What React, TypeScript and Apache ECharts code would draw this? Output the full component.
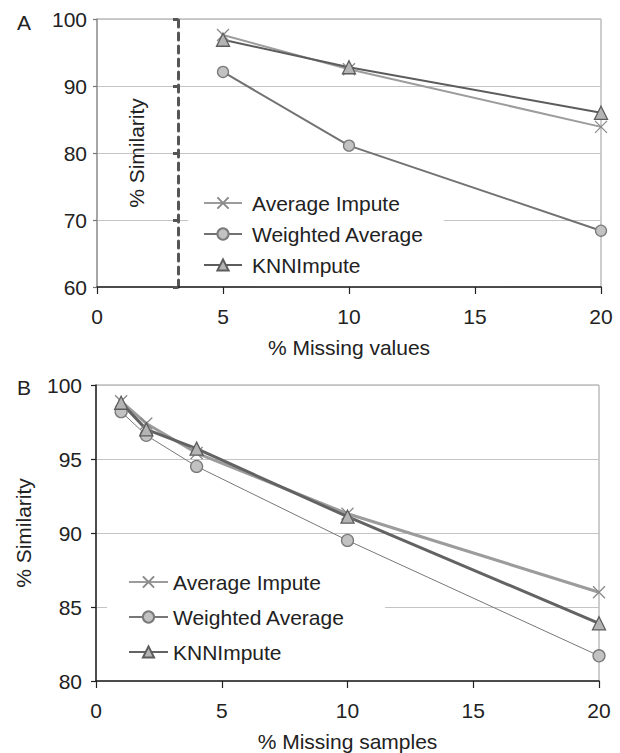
import React, { useEffect, useRef } from "react";
import * as echarts from "echarts";

// Panel A: % missing values
const xA = [5, 10, 20];
const avgA = [97.6, 92.5, 83.9];
const wavgA = [92.1, 81.1, 68.4];
const knnA = [96.9, 92.8, 86.0];

// Panel B: % missing samples
const xB = [1, 2, 4, 10, 20];
const avgB = [98.9, 97.4, 95.4, 91.3, 86.0];
const wavgB = [98.2, 96.6, 94.5, 89.5, 81.7];
const knnB = [98.8, 97.0, 95.7, 91.1, 83.9];

const seriesNames = ["Average Impute", "Weighted Average", "KNNImpute"];
const xTicks = [0, 5, 10, 15, 20];
const yTicksA = [60, 70, 80, 90, 100];
const yTicksB = [80, 85, 90, 95, 100];

const FONT = "'Liberation Sans', Arial, Helvetica, sans-serif";
const CROSS = "path://M0,0L10,10M10,0L0,10";

const pair = (xs: number[], ys: number[]) => xs.map((x, i) => [x, ys[i]]);

export default function App() {
  const ref = useRef<HTMLDivElement>(null);
  useEffect(() => {
    if (!ref.current) return;
    const chart = echarts.init(ref.current, null, { renderer: "svg" });
    const txt = { color: "#222", fontFamily: FONT, fontSize: 21 };
    const mk = (
      name: string,
      xi: number,
      yi: number,
      data: number[][],
      lineColor: string,
      width: number,
      symbol: string,
      size: number,
      fill: string,
      border: string
    ) => ({
      type: "line",
      name,
      xAxisIndex: xi,
      yAxisIndex: yi,
      data,
      symbol,
      symbolSize: size,
      showAllSymbol: true,
      lineStyle: { color: lineColor, width },
      itemStyle: {
        color: fill,
        borderColor: border,
        borderWidth: 1.3,
      },
      emphasis: { disabled: true },
      z: 3,
    });
    const sfxB = "#B";
    chart.setOption({
      animation: false,
      backgroundColor: "#fff",
      textStyle: { fontFamily: FONT },
      grid: [
        { left: 97, top: 19, width: 504, height: 268, show: true, borderColor: "#9a9a9a", borderWidth: 1, backgroundColor: "transparent" },
        { left: 96, top: 385, width: 503, height: 296, show: true, borderColor: "#9a9a9a", borderWidth: 1, backgroundColor: "transparent" },
      ],
      xAxis: [
        {
          type: "value", gridIndex: 0, min: xTicks[0], max: xTicks[xTicks.length - 1], interval: 5,
          name: "% Missing values", nameLocation: "middle", nameGap: 50, nameTextStyle: txt,
          axisLine: { lineStyle: { color: "#222", width: 1.5 } },
          axisTick: { length: 7, lineStyle: { color: "#222", width: 1.2 } },
          axisLabel: { ...txt, margin: 19 },
          splitLine: { show: false },
        },
        {
          type: "value", gridIndex: 1, min: xTicks[0], max: xTicks[xTicks.length - 1], interval: 5,
          name: "% Missing samples", nameLocation: "middle", nameGap: 50, nameTextStyle: txt,
          axisLine: { lineStyle: { color: "#222", width: 1.5 } },
          axisTick: { length: 7, lineStyle: { color: "#222", width: 1.2 } },
          axisLabel: { ...txt, margin: 19 },
          splitLine: { show: false },
        },
      ],
      yAxis: [
        {
          type: "value", gridIndex: 0, min: yTicksA[0], max: yTicksA[yTicksA.length - 1], interval: 10,
          axisLine: { show: true, lineStyle: { color: "#999", width: 1.5 } },
          axisTick: { show: true, length: 4, lineStyle: { color: "#777", width: 1.2 } },
          axisLabel: { ...txt, margin: 10 },
          splitLine: { show: true, lineStyle: { color: "#c4c4c4", width: 1 } },
        },
        {
          type: "value", gridIndex: 0, position: "left", offset: -81,
          min: yTicksA[0], max: yTicksA[yTicksA.length - 1], interval: 10,
          name: "% Similarity", nameLocation: "middle", nameGap: 31, nameTextStyle: txt,
          axisLine: { show: true, lineStyle: { color: "#555", width: 3, type: [7, 6] } },
          axisTick: { show: true, length: 5, lineStyle: { color: "#555", width: 3 } },
          axisLabel: { show: false },
          splitLine: { show: false },
        },
        {
          type: "value", gridIndex: 1, min: yTicksB[0], max: yTicksB[yTicksB.length - 1], interval: 5,
          name: "% Similarity", nameLocation: "middle", nameGap: 62, nameTextStyle: txt,
          axisLine: { show: true, lineStyle: { color: "#222", width: 1.5 } },
          axisTick: { show: true, length: 5, lineStyle: { color: "#222", width: 1.2 } },
          axisLabel: { ...txt, margin: 14 },
          splitLine: { show: true, lineStyle: { color: "#c4c4c4", width: 1 } },
        },
      ],
      legend: [
        {
          data: seriesNames,
          orient: "vertical",
          left: 188,
          top: 184,
          padding: [8, 20, 8, 15],
          backgroundColor: "#fff",
          itemWidth: 38,
          itemHeight: 14,
          itemGap: 9,
          textStyle: { ...txt, lineHeight: 22, padding: [0, 0, 0, 5] },
          selectedMode: false,
          z: 5,
        },
        {
          data: seriesNames.map((n) => n + sfxB),
          formatter: (n: string) => n.replace(sfxB, ""),
          orient: "vertical",
          left: 107,
          top: 563,
          padding: [8, 40, 8, 21],
          backgroundColor: "#fff",
          itemWidth: 39,
          itemHeight: 14,
          itemGap: 13,
          textStyle: { ...txt, lineHeight: 22 },
          selectedMode: false,
          z: 5,
        },
      ],
      graphic: [
        { type: "text", left: 17, top: 12, style: { text: "A", fill: "#222", font: `21px ${FONT}` } },
        { type: "text", left: 17, top: 377, style: { text: "B", fill: "#222", font: `21px ${FONT}` } },
      ],
      series: [
        mk(seriesNames[0], 0, 0, pair(xA, avgA), "#9c9c9c", 2, CROSS, 12, "transparent", "#8a8a8a"),
        mk(seriesNames[1], 0, 0, pair(xA, wavgA), "#727272", 2, "circle", 11, "#c2c2c2", "#7a7a7a"),
        mk(seriesNames[2], 0, 0, pair(xA, knnA), "#5c5c5c", 2, "triangle", 13, "#b4b4b4", "#5c5c5c"),
        mk(seriesNames[0] + sfxB, 1, 2, pair(xB, avgB), "#9c9c9c", 3, CROSS, 12, "transparent", "#8a8a8a"),
        mk(seriesNames[1] + sfxB, 1, 2, pair(xB, wavgB), "#777777", 1, "circle", 12, "#c2c2c2", "#7a7a7a"),
        mk(seriesNames[2] + sfxB, 1, 2, pair(xB, knnB), "#636363", 3, "triangle", 13, "#b4b4b4", "#5c5c5c"),
      ],
    });
    return () => chart.dispose();
  }, []);
  return (
    <div
      ref={ref}
      style={{ position: "absolute", left: 0, top: 0, width: 620, height: 753, background: "#fff" }}
    />
  );
}
